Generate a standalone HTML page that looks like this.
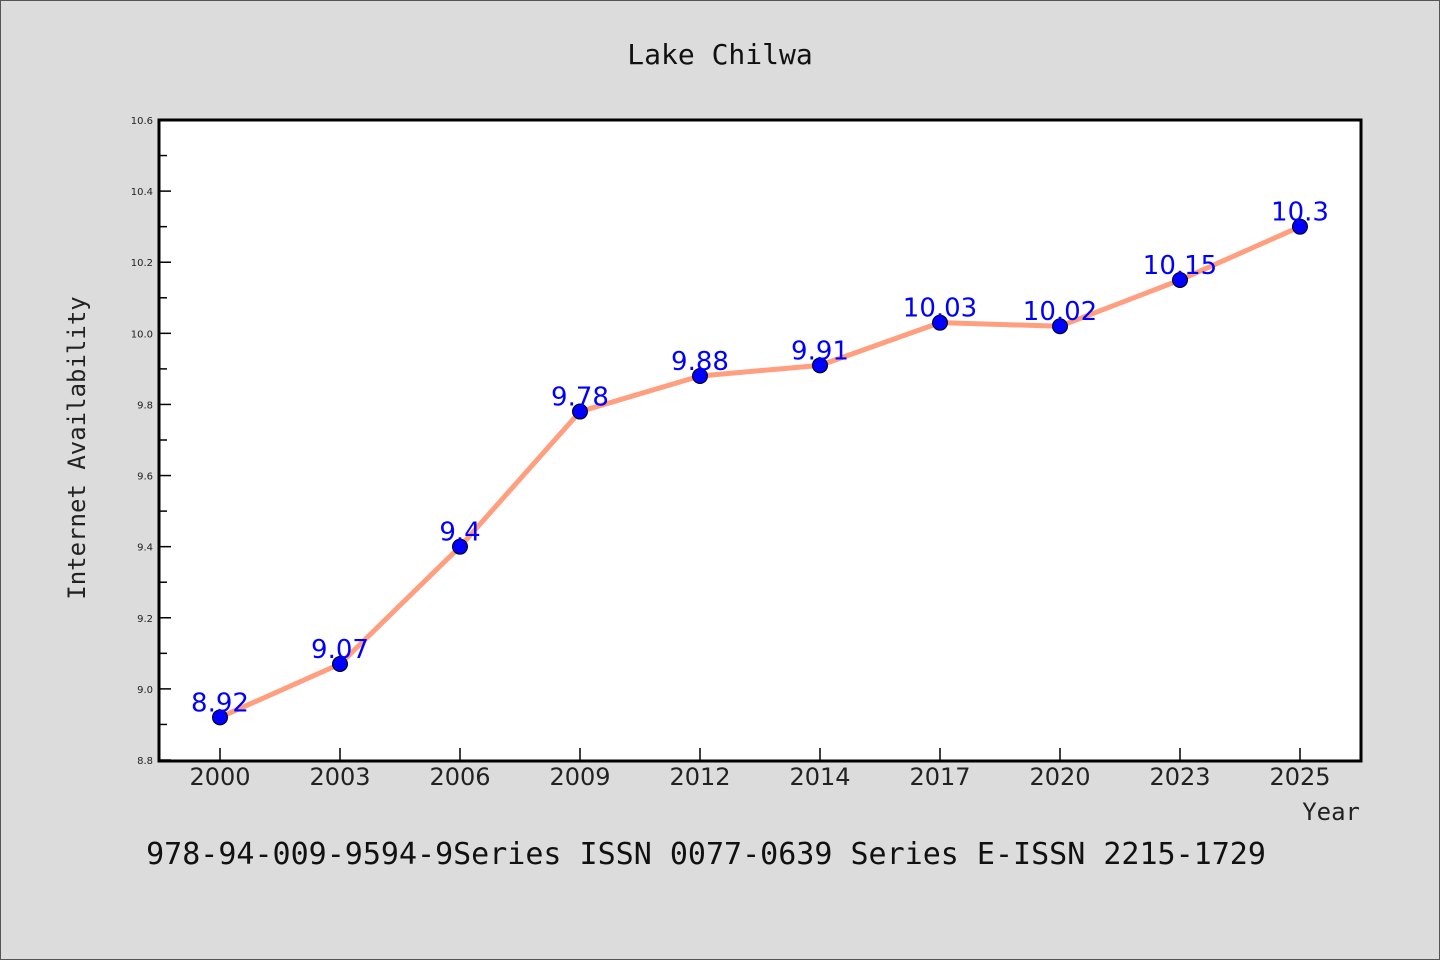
<!DOCTYPE html>
<html><head><meta charset="utf-8"><style>
html,body{margin:0;padding:0;background:#dcdcdc;}
svg{display:block;}
</style></head><body>
<svg id="chart" width="1440" height="960" xmlns="http://www.w3.org/2000/svg">
<rect x="0.5" y="0.5" width="1439" height="959" fill="#dcdcdc" stroke="#555" stroke-width="1"/>
<text x="720" y="64" text-anchor="middle" font-family="DejaVu Sans Mono, Liberation Mono, monospace" font-size="28" fill="#111">Lake Chilwa</text>
<rect x="159" y="120" width="1202" height="641" fill="#fff"/>
<g id="axes"></g>
<g id="series"></g>
<rect x="159" y="120" width="1202" height="641" fill="none" stroke="#000" stroke-width="3"/>
<text transform="translate(85,448) rotate(-90)" text-anchor="middle" font-family="DejaVu Sans Mono, Liberation Mono, monospace" font-size="24" fill="#222">Internet Availability</text>
<text x="1360" y="820" text-anchor="end" font-family="DejaVu Sans Mono, Liberation Mono, monospace" font-size="24" fill="#222">Year</text>
<text x="706" y="864" text-anchor="middle" font-family="DejaVu Sans Mono, Liberation Mono, monospace" font-size="30" fill="#111">978-94-009-9594-9Series ISSN 0077-0639 Series E-ISSN 2215-1729</text>
</svg>
<script>
const categories = ["2000","2003","2006","2009","2012","2014","2017","2020","2023","2025"];
const values = [8.92,9.07,9.4,9.78,9.88,9.91,10.03,10.02,10.15,10.3];
const valueLabels = ["8.92","9.07","9.4","9.78","9.88","9.91","10.03","10.02","10.15","10.3"];
const yTicks = [8.8,9.0,9.2,9.4,9.6,9.8,10.0,10.2,10.4,10.6];
const yTickLabels = ["8.8","9.0","9.2","9.4","9.6","9.8","10.0","10.2","10.4","10.6"];
const yMinor = [8.9,9.1,9.3,9.5,9.7,9.9,10.1,10.3,10.5];

const NS="http://www.w3.org/2000/svg";
const X0=159,X1=1361,Y0=760,Y1=120,yMin=8.8,yMax=10.6;
const xs=i=>220+i*(1300-220)/(categories.length-1);
const ys=v=>Y0-(v-yMin)/(yMax-yMin)*(Y0-Y1);
function mk(tag,attrs,parent){const e=document.createElementNS(NS,tag);for(const k in attrs)e.setAttribute(k,attrs[k]);parent.appendChild(e);return e;}
const axes=document.getElementById('axes'), ser=document.getElementById('series');
yTicks.forEach((v,i)=>{
  const t=mk('line',{x1:X0,x2:X0+12,y1:ys(v),y2:ys(v),stroke:'#000','stroke-width':1.5},axes);
  
  
  const l=mk('text',{x:X0-6,y:ys(v)+4,'text-anchor':'end','font-family':'DejaVu Sans, Liberation Sans, sans-serif','font-size':10,fill:'#222'},axes);
  l.textContent=yTickLabels[i];
  
  
});
yMinor.forEach(v=>{
  const t=mk('line',{x1:X0,x2:X0+8,y1:ys(v),y2:ys(v),stroke:'#000','stroke-width':1.5},axes);
  
  
});
categories.forEach((c,i)=>{
  const t=mk('line',{x1:xs(i),x2:xs(i),y1:Y0,y2:Y0-12,stroke:'#000','stroke-width':1.5},axes);
  
  
  const l=mk('text',{x:xs(i),y:785,'text-anchor':'middle','font-family':'DejaVu Sans, Liberation Sans, sans-serif','font-size':24,fill:'#222'},axes);
  l.textContent=c;
  
  
});
const line=mk('polyline',{points:values.map((v,i)=>xs(i)+','+ys(v)).join(' '),fill:'none',stroke:'#ff9f7f','stroke-width':5,'stroke-linejoin':'round'},ser);


values.forEach((v,i)=>{
  const p=mk('circle',{cx:xs(i),cy:ys(v),r:7.5,fill:'#0000ff',stroke:'#000','stroke-width':1},ser);
  
  
});
values.forEach((v,i)=>{
  const l=mk('text',{x:xs(i),y:ys(v)-6,'text-anchor':'middle','font-family':'DejaVu Sans, Liberation Sans, sans-serif','font-size':26,fill:'#0000ff'},ser);
  l.textContent=valueLabels[i];
  
  
});
</script>
</body></html>
